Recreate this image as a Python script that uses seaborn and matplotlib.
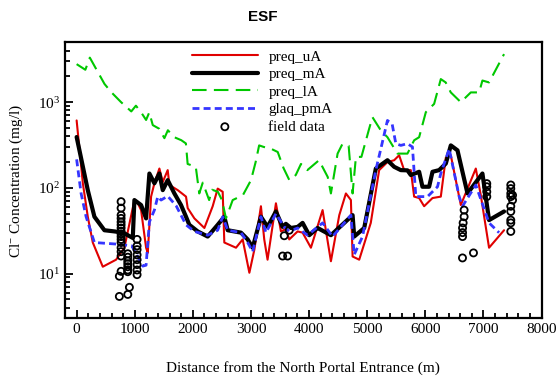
import pandas as pd
import numpy as np
import seaborn as sns
import matplotlib.pyplot as plt
from matplotlib.ticker import MultipleLocator

sns.set_style('white')
plt.rcParams['font.family'] = ['Liberation Serif', 'DejaVu Serif']
plt.rcParams['mathtext.fontset'] = 'custom'
plt.rcParams['mathtext.rm'] = 'Liberation Serif'
plt.rcParams['mathtext.it'] = 'Liberation Serif:italic'
plt.rcParams['text.color'] = 'black'
plt.rcParams['axes.labelcolor'] = 'black'
plt.rcParams['xtick.color'] = 'black'
plt.rcParams['ytick.color'] = 'black'

# model results, distance (m) vs Cl- (mg/l)
uA_x = [0, 107, 192, 278, 450, 679, 822, 994, 1052, 1109, 1195, 1224, 1281, 1338, 1424, 1482, 1567, 1596,
        1740, 1882, 1911, 2026, 2198, 2341, 2427, 2513, 2541, 2742, 2857, 2972, 3058, 3171, 3228, 3285,
        3429, 3515, 3600, 3658, 3802, 3888, 4031, 4232, 4375, 4519, 4633, 4719, 4748, 4862, 5061, 5205,
        5348, 5463, 5549, 5635, 5750, 5807, 5893, 5979, 6123, 6266, 6352, 6438, 6610, 6868, 6954, 7096, 7354]
uA_y = [612, 113, 46, 23, 12, 14.5, 20, 72, 66, 55, 20, 17.4, 79, 113, 168, 117, 161, 108,
        94, 79, 58, 44, 34, 61, 98, 90, 23, 20, 25, 10.2, 19, 61, 25, 14.5,
        66, 31, 33, 25, 31, 30, 20, 55, 13.9, 48, 86, 72, 15.8, 14.5, 39, 161,
        200, 210, 240, 161, 161, 79, 76, 61, 76, 79, 225, 240, 63, 168, 82, 20, 32]

mA_x = [0, 48, 192, 306, 478, 650, 800, 966, 994, 1109, 1195, 1252, 1338, 1424, 1482, 1567, 1682, 1796,
        1882, 1939, 2083, 2255, 2427, 2541, 2599, 2828, 2943, 3029, 3171, 3285, 3429, 3544, 3600, 3687,
        3802, 3888, 4002, 4146, 4375, 4605, 4748, 4776, 4948, 5148, 5348, 5463, 5578, 5692, 5750, 5893,
        5950, 6065, 6123, 6237, 6352, 6438, 6553, 6725, 6982, 7096, 7354]
mA_y = [392, 275, 94, 46, 32, 31, 30, 26, 72, 63, 44, 147, 113, 147, 94, 123, 86, 63,
        46, 37, 31, 27, 37, 46, 32, 30, 25, 20, 46, 35, 53, 35, 38, 34,
        35, 39, 28, 34, 28, 39, 48, 27, 34, 168, 210, 176, 161, 160, 141, 154,
        103, 103, 154, 161, 192, 313, 274, 86, 147, 42, 53]

lA_x = [0, 150, 227, 480, 600, 765, 940, 1020, 1110, 1195, 1250, 1310, 1420, 1510, 1570, 1680, 1800,
        1880, 1910, 2050, 2110, 2170, 2280, 2330, 2430, 2500, 2570, 2685, 2860, 3000, 3080, 3140, 3220,
        3340, 3460, 3560, 3660, 3770, 3860, 3970, 4170, 4320, 4375, 4490, 4576, 4680, 4748, 4805, 4900,
        5033, 5090, 5234, 5348, 5520, 5692, 5807, 5893, 6008, 6151, 6266, 6350, 6438, 6610, 6782, 6925,
        6982, 7096, 7354]
lA_y = [2780, 2390, 3310, 1630, 1300, 1000, 780, 910, 760, 620, 760, 540, 490, 380, 470, 390, 360,
        330, 190, 176, 86, 115, 72, 95, 90, 72, 44, 72, 82, 123, 200, 313, 300,
        287, 262, 170, 123, 141, 190, 161, 210, 134, 86, 251, 328, 310, 86, 229, 230,
        490, 668, 468, 390, 251, 251, 359, 390, 764, 955, 1860, 1700, 1300, 1000, 1300, 1300,
        1790, 1700, 3640]

pmA_x = [0, 77, 163, 306, 708, 950, 1080, 1138, 1195, 1252, 1338, 1396, 1453, 1567, 1711, 1882, 2026,
         2255, 2427, 2513, 2600, 2828, 2943, 3029, 3171, 3257, 3429, 3572, 3658, 3802, 3974, 4232, 4404,
         4719, 4776, 4919, 5148, 5348, 5430, 5492, 5578, 5692, 5778, 5836, 6037, 6209, 6266, 6410, 6582,
         6639, 6868, 7096, 7268]
pmA_y = [215, 86, 46, 23, 22, 21, 14.5, 12.2, 12.5, 40, 55, 79, 72, 80, 62, 37, 31,
         28, 32, 46, 32, 30, 23, 18, 46, 30, 50, 35, 31, 34, 28, 39, 27,
         48, 16.6, 27, 161, 612, 550, 328, 313, 328, 300, 79, 79, 103, 147, 285, 79,
         61, 108, 39, 30]

# field measurements
field_x = [765, 765, 765, 765, 765, 765, 765, 765, 765, 765, 765, 765, 765, 765, 765,
           735, 735, 765, 880, 880, 880, 880, 880, 880, 880, 908, 880,
           1040, 1040, 1040, 1040, 1040, 1040, 1040, 1040,
           3544, 3630, 3572, 3658,
           6667, 6667, 6650, 6640, 6640, 6640, 6639, 6828,
           7057, 7057, 7057, 7057,
           7470, 7470, 7470, 7470, 7470, 7470, 7470, 7470, 7470, 7500, 7500]
field_y = [69, 58, 48, 44, 40, 37, 34, 31, 29, 27, 25, 23, 20, 18, 16,
           9.3, 5.4, 10.6, 17, 15.5, 14, 13, 12, 11, 10.5, 6.9, 5.7,
           25, 21, 19, 16.5, 14.5, 12.7, 11, 9.7,
           16, 16, 27.6, 32,
           55, 46, 39, 34, 30, 27, 15.2, 17.4,
           112, 103, 90, 79,
           108, 98, 86, 79, 61, 53, 42, 39, 31, 82, 72]

fig = plt.figure(figsize=(5.58, 3.77), dpi=100)
ax = fig.add_axes([0.1165, 0.1557, 0.8541, 0.7321])

sns.lineplot(x=uA_x, y=uA_y, ax=ax, color='#e00000', lw=1.5, estimator=None, label='preq_uA')
sns.lineplot(x=mA_x, y=mA_y, ax=ax, color='black', lw=3, estimator=None, label='preq_mA')
sns.lineplot(x=lA_x, y=lA_y, ax=ax, color='#00c800', lw=1.5, estimator=None, label='preq_lA')
ax.lines[-1].set_dashes([7, 3.5])
sns.lineplot(x=pmA_x, y=pmA_y, ax=ax, color='#3535ff', lw=2, estimator=None, label='glaq_pmA')
ax.lines[-1].set_dashes([2.5, 1.5])
sns.scatterplot(x=field_x, y=field_y, ax=ax, marker='o', s=26, facecolor='none',
                edgecolor='black', linewidth=1.3, label='field data', zorder=5)

ax.set_yscale('log')
ax.set_xlim(-200, 8000)
ax.set_ylim(3, 5000)
ax.xaxis.set_major_locator(MultipleLocator(1000))
ax.xaxis.set_minor_locator(MultipleLocator(200))
ax.tick_params(which='both', direction='in', labelsize=11, width=1.3,
               bottom=True, left=True, top=False, right=False, colors='black')
ax.tick_params(which='major', length=6)
ax.tick_params(which='minor', length=3.5)
for s in ax.spines.values():
    s.set_linewidth(1.6)
    s.set_color('black')

ax.set_xlabel('Distance from the North Portal Entrance (m)', fontsize=11, labelpad=18)
ax.set_ylabel('Cl$^{-}$ Concentration (mg/l)', fontsize=11, labelpad=9)
fig.text(0.47, 0.955, 'ESF', ha='center', va='center', fontsize=11, fontweight='bold',
         family='Liberation Sans', color='black')

ax.legend(loc='upper left', bbox_to_anchor=(192 / 558, 1 - 50 / 377),
          bbox_transform=fig.transFigure, frameon=False, fontsize=11, borderpad=0,
          borderaxespad=0, handlelength=4.3, handletextpad=0.7, labelspacing=0.25)

fig.savefig('out.png', dpi=100)
